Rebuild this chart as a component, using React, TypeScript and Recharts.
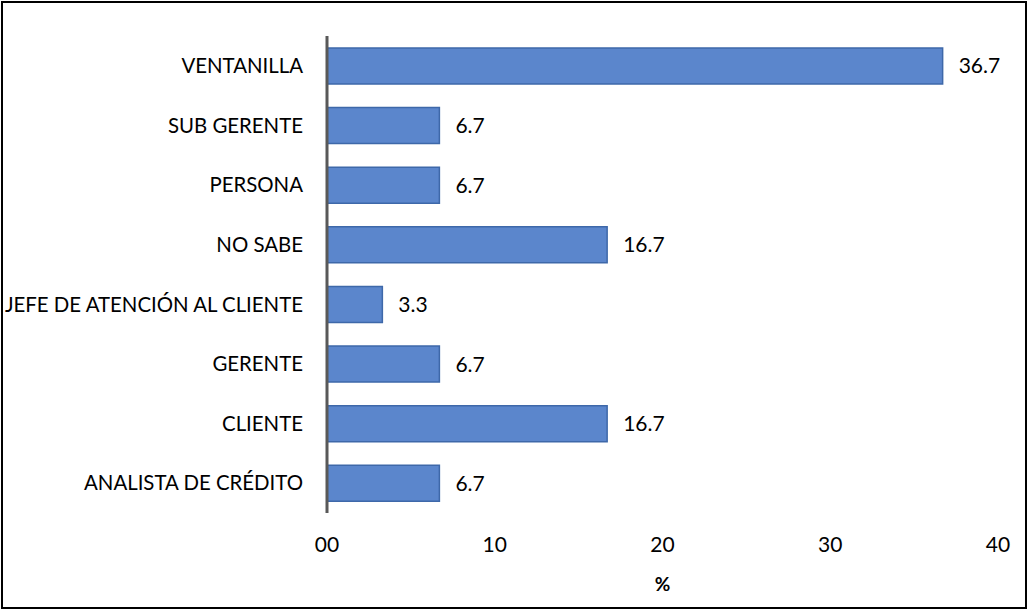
import { BarChart, Bar, XAxis, YAxis, LabelList } from 'recharts'

const categories = [
  'VENTANILLA',
  'SUB GERENTE',
  'PERSONA',
  'NO SABE',
  'JEFE DE ATENCIÓN AL CLIENTE',
  'GERENTE',
  'CLIENTE',
  'ANALISTA DE CRÉDITO',
]
const values = [36.7, 6.7, 6.7, 16.7, 3.3, 6.7, 16.7, 6.7]
const xTicks = [0, 10, 20, 30, 40]

const FONT = 'Lato, "Open Sans", sans-serif'

export default function App() {
  const data = categories.map((name, i) => ({ name, value: values[i] }))

  return (
    <div style={{ position: 'absolute', left: 0, top: 0, width: 1028, height: 610, background: '#fff', fontFamily: FONT }}>
      <div
        style={{
          position: 'absolute', left: 1, top: 1, width: 1026, height: 608,
          boxSizing: 'border-box', border: '2px solid #000',
        }}
      />
      <BarChart
        width={1028}
        height={610}
        data={data}
        layout="vertical"
        barCategoryGap="20%"
        margin={{ top: 36, right: 30, left: 0, bottom: 0 }}
      >
        <XAxis
          type="number"
          domain={[0, 40]}
          ticks={xTicks}
          axisLine={false}
          tickLine={false}
          tickSize={0}
          tickMargin={24}
          height={97}
          tick={{ fontSize: 21, fill: '#000', fontFamily: FONT }}
          tickFormatter={(v: number) => (v === 0 ? '00' : String(v))}
          label={{ value: '%', position: 'insideTop', dy: 60, style: { fontSize: 19, fontWeight: 700, fill: '#000', fontFamily: FONT } }}
        />
        <YAxis
          type="category"
          dataKey="name"
          width={327}
          axisLine={{ stroke: '#595959', strokeWidth: 3 }}
          tickLine={false}
          tickSize={0}
          tickMargin={24}
          interval={0}
          tick={{ fontSize: 20.4, fill: '#000', fontFamily: FONT }}
        />
        <Bar dataKey="value" fill="#5b86cc" stroke="#3e68a9" strokeWidth={1.5} isAnimationActive={false}>
          <LabelList
            dataKey="value"
            position="right"
            offset={16}
            style={{ fontSize: 21, fill: '#000', fontFamily: FONT }}
            formatter={(v: unknown) => (v as number).toFixed(1)}
          />
        </Bar>
      </BarChart>
    </div>
  )
}
